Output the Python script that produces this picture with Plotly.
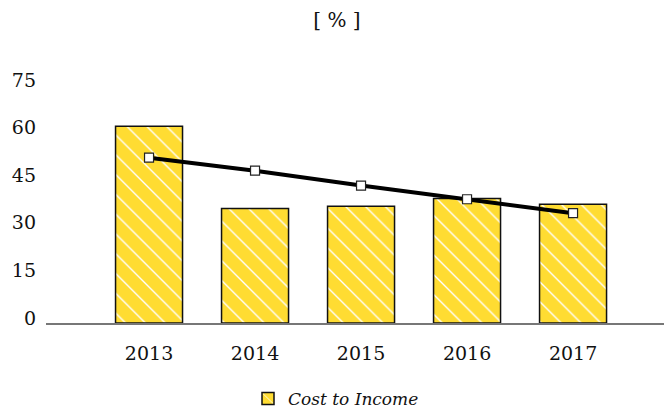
import plotly.graph_objects as go

years = ["2013", "2014", "2015", "2016", "2017"]
cost_to_income = [62.0, 36.1, 36.8, 39.2, 37.4]
trend = [52.1, 48.0, 43.3, 39.0, 34.6]
y_ticks = [0, 15, 30, 45, 60, 75]

FONT = "DejaVu Serif"

fig = go.Figure()
fig.add_trace(go.Bar(
    x=years, y=cost_to_income, name="Cost to Income",
    marker=dict(
        color="#FFDC32",
        line=dict(color="#111111", width=1.5),
        pattern=dict(shape="\\", fgcolor="white", bgcolor="#FFDC32",
                     size=14, solidity=0.1, fillmode="replace"),
    ),
))
fig.add_trace(go.Scatter(
    x=years, y=trend, mode="lines+markers", showlegend=False,
    line=dict(color="black", width=4),
    marker=dict(symbol="square", size=9, color="white",
                line=dict(color="#222", width=1.2)),
))

fig.update_layout(
    width=664, height=411,
    margin=dict(l=46, r=0, t=85, b=88),
    paper_bgcolor="white", plot_bgcolor="white",
    font=dict(family=FONT, size=19, color="#111"),
    bargap=0.368,
    showlegend=True,
    title=dict(text="[ % ]", x=337/664, xref="container", xanchor="center",
               y=1 - 20/411, yref="container", yanchor="middle",
               font=dict(family=FONT, size=20, color="#111")),
    legend=dict(orientation="h", xref="container", yref="container",
                x=336/664, xanchor="center", y=1 - 399/411, yanchor="middle",
                font=dict(family=FONT, size=17, style="italic", color="#111"),
                itemwidth=30),
)
fig.update_xaxes(
    type="category", range=[-0.972, 4.858],
    showline=True, linecolor="#777", linewidth=1.5, layer="below traces",
    showgrid=False, zeroline=False, ticks="", ticklabelstandoff=12,
    tickfont=dict(family=FONT, size=19),
)
fig.update_yaxes(
    range=[0, 75], tickvals=y_ticks, ticktext=[str(v) for v in y_ticks],
    showline=False, showgrid=False, zeroline=False, ticks="",
    ticklabelstandoff=9, ticklabelshift=-5,
    tickfont=dict(family=FONT, size=19),
)

fig.write_html("out.html", config={"displayModeBar": False},
               post_script="document.body.style.margin='0';document.body.style.overflow='hidden';")
